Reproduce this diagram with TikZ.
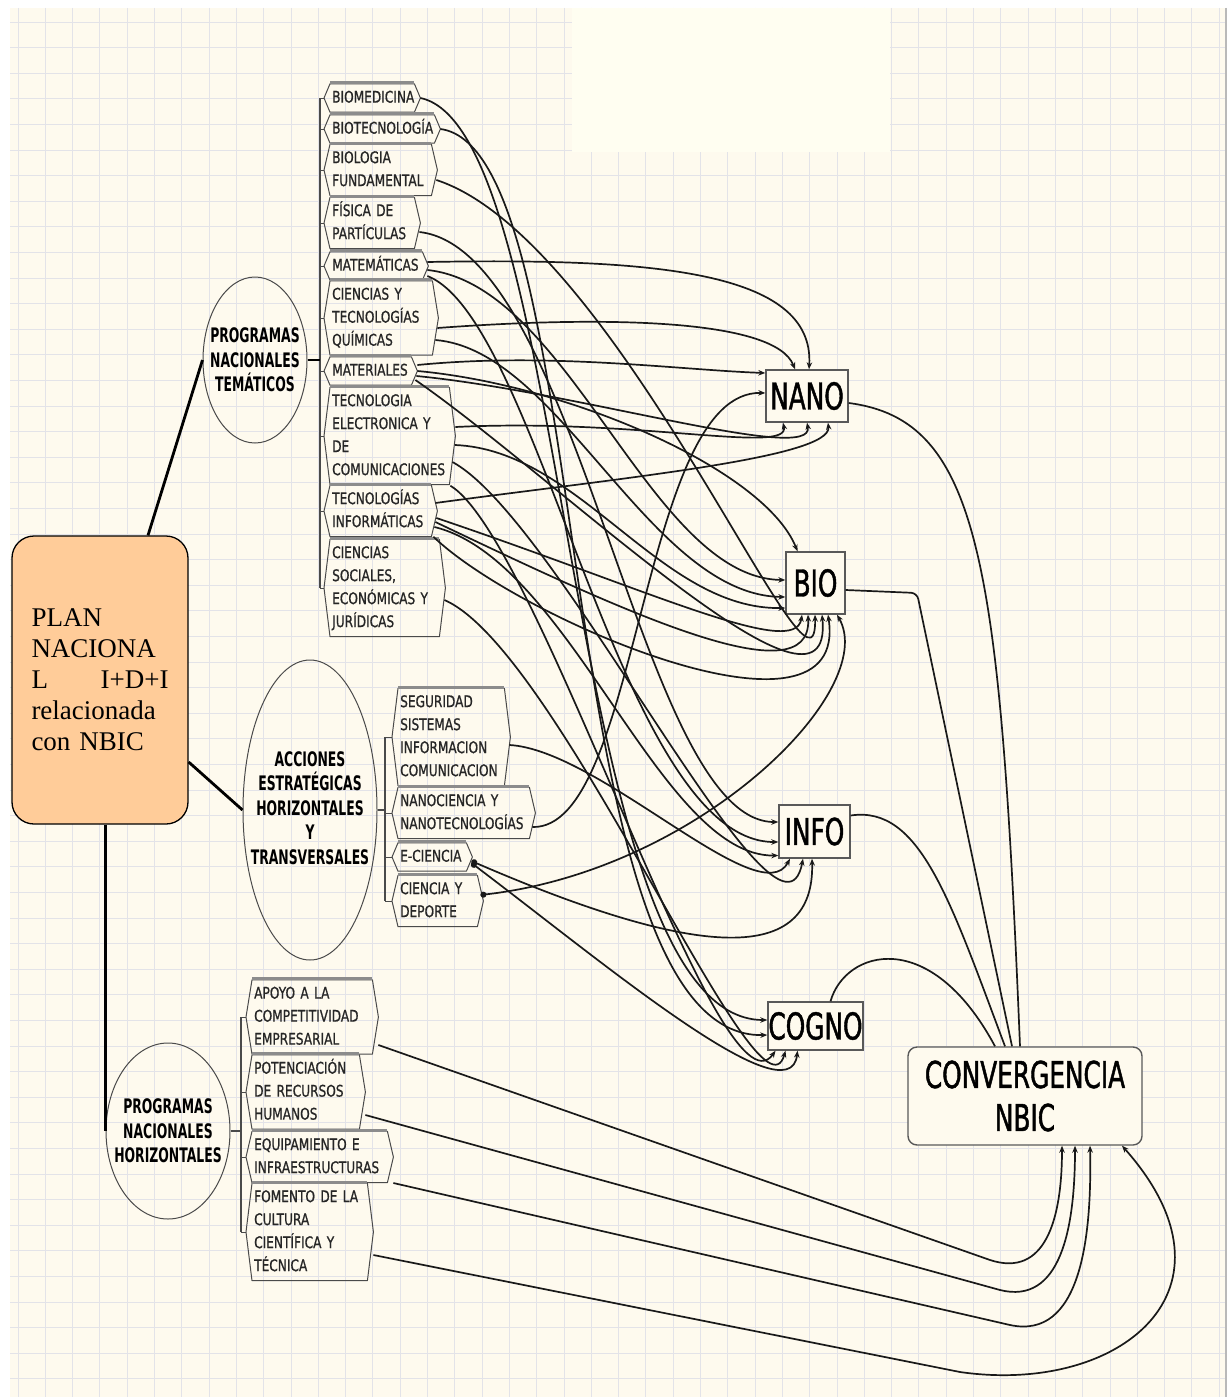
\documentclass[tikz,border=0pt]{standalone}
\usepackage{fontspec}
\usetikzlibrary{shapes.geometric,arrows.meta,calc}
\setmainfont{Liberation Serif}
\newfontfamily\tagfont[FakeStretch=0.76,FakeBold=0.8]{DejaVu Sans}
\newfontfamily\ellfont[FakeStretch=0.62]{DejaVu Sans}
\newfontfamily\keyfont[FakeStretch=0.67,FakeBold=1.2]{DejaVu Sans}
\hyphenpenalty=10000
\exhyphenpenalty=10000
\definecolor{paper}{HTML}{FEFAEE}
\definecolor{gridc}{HTML}{E3E3E8}
\definecolor{peach}{HTML}{FFCC99}
\definecolor{edgegray}{HTML}{4A4A4A}
\definecolor{bargray}{HTML}{8C8C8C}
\definecolor{ivory}{HTML}{FFFEF1}

% hexagonal label: name, west point, text width, text
\newcommand\hexlabel[4]{%
  \node[tagnode, text width=#3] (#1) at #2 {#4};
  \draw[tagedge] (#1.north west) -- (#1.north east) -- ([xshift=6pt]#1.east)
     -- (#1.south east) -- (#1.south west) -- ([xshift=-6pt]#1.west) -- cycle;
  \draw[tagbar] ([yshift=1pt]#1.north west) -- ([yshift=1pt]#1.north east);
}

\begin{document}
\begin{tikzpicture}[x=1pt,y=-1pt,
  gridline/.style={draw=gridc, line width=0.9pt},
  tagnode/.style={anchor=west, inner xsep=2pt, inner ysep=2.5pt, align=left,
    text=black!85, font={\tagfont\fontsize{16}{23}\selectfont},
    execute at begin node=\strut, execute at end node=\strut},
  tagedge/.style={draw=edgegray, line width=1pt, line join=round},
  tagbar/.style={draw=bargray, line width=2.8pt},
  groupell/.style={ellipse, draw=edgegray, line width=1pt, inner sep=0pt},
  grouptext/.style={align=center, inner sep=0pt,
    font={\ellfont\bfseries\fontsize{20}{24.5}\selectfont}},
  keynode/.style={draw=gray!70!black, line width=1.4pt, fill=paper, inner sep=0pt,
    font={\keyfont\fontsize{37}{43}\selectfont}},
  trunk/.style={draw=black, line width=2.8pt},
  bracket/.style={draw=edgegray, line width=1.8pt},
  conn/.style={draw=black!90, line width=1.7pt, -{Stealth[length=7pt,width=5.5pt]}},
  conndot/.style={draw=black!90, line width=1.7pt, {Circle[length=6pt]}-{Stealth[length=7pt,width=5.5pt]}},
  plainconn/.style={draw=black!90, line width=1.7pt},
]
\useasboundingbox (0,0) rectangle (1231,1397);

% paper and grid
\fill[white] (0,0) rectangle (1231,1397);
\fill[paper] (10,8) rectangle (1225,1397);
\foreach \i in {0,...,44} \draw[gridline] ({18+27.3*\i},8) -- ({18+27.3*\i},1397);
\foreach \j in {0,...,54} \draw[gridline] (10,{22+25.6*\j}) -- (1225,{22+25.6*\j});
\fill[ivory] (572,8) rectangle (890,152);
\draw[gray!55, line width=2pt] (1226,8) -- (1226,1397);

% root box
\node[draw=black, line width=1.3pt, fill=peach, rounded corners=22pt,
  minimum width=176pt, minimum height=288pt, text width=137pt, inner sep=0pt,
  align=left, font=\fontsize{27}{31}\selectfont] (plan) at (100,680)
  {PLAN\\NACIONA\\L\hfill I+D+I\\relacionada\\con NBIC};

% programme groups: outline and title
\node[groupell, minimum width=104pt, minimum height=166pt] (tem) at (255,360) {};
\node[grouptext] (temtxt) at (tem.center) {PROGRAMAS\\NACIONALES\\TEMÁTICOS};
\node[groupell, minimum width=134pt, minimum height=300pt] (acc) at (310,810) {};
\node[grouptext] (acctxt) at ([yshift=2pt]acc.center)
  {ACCIONES\\ESTRATÉGICAS\\HORIZONTALES\\Y\\TRANSVERSALES};
\node[groupell, minimum width=124pt, minimum height=176pt] (phz) at (168,1131) {};
\node[grouptext] (phztxt) at (phz.center) {PROGRAMAS\\NACIONALES\\HORIZONTALES};

\draw[trunk] ([xshift=48pt]plan.north) -- (tem.west);
\draw[trunk] ([yshift=-82pt]plan.east) -- (acc.west);
\draw[trunk] (plan.south -| phz.west) -- (phz.west);

% thematic programmes
\hexlabel{bmed}{(330,98)}{80pt}{BIOMEDICINA}
\hexlabel{btec}{(330,129)}{100pt}{BIOTECNOLOGÍA}
\hexlabel{bfun}{(330,170)}{97pt}{BIOLOGIA\\FUNDAMENTAL}
\hexlabel{fis}{(330,223)}{80pt}{FÍSICA DE\\PARTÍCULAS}
\hexlabel{mat}{(330,266)}{88pt}{MATEMÁTICAS}
\hexlabel{quim}{(330,318)}{98pt}{CIENCIAS Y\\TECNOLOGÍAS\\QUÍMICAS}
\hexlabel{mater}{(330,371)}{77pt}{MATERIALES}
\hexlabel{tele}{(330,436)}{115pt}{TECNOLOGIA\\ELECTRONICA Y\\DE\\COMUNICACIONES}
\hexlabel{tinf}{(330,511)}{97pt}{TECNOLOGÍAS\\INFORMÁTICAS}
\hexlabel{csoc}{(330,588)}{105pt}{CIENCIAS\\SOCIALES,\\ECONÓMICAS Y\\JURÍDICAS}

% strategic actions
\hexlabel{seg}{(398,737)}{102pt}{SEGURIDAD\\SISTEMAS\\INFORMACION\\COMUNICACION}
\hexlabel{nanoc}{(398,813)}{127pt}{NANOCIENCIA Y\\NANOTECNOLOGÍAS}
\hexlabel{ecie}{(398,857)}{64pt}{E-CIENCIA}
\hexlabel{dep}{(398,901)}{75pt}{CIENCIA Y\\DEPORTE}

% horizontal programmes
\hexlabel{apo}{(252,1017)}{116pt}{APOYO A LA\\COMPETITIVIDAD\\EMPRESARIAL}
\hexlabel{pot}{(252,1092)}{103pt}{POTENCIACIÓN\\DE RECURSOS\\HUMANOS}
\hexlabel{equ}{(252,1157)}{131pt}{EQUIPAMIENTO E\\INFRAESTRUCTURAS}
\hexlabel{fom}{(252,1232)}{111pt}{FOMENTO DE LA\\CULTURA\\CIENTÍFICA Y\\TÉCNICA}

% brackets
\coordinate (b1top) at (320,98);
\coordinate (b1bot) at (320,588);
\draw[bracket] (b1top) -- (b1bot);
\draw[trunk, line width=2pt] (tem.east) -- (tem.east -| b1top);
\foreach \n in {bmed,btec,bfun,fis,mat,quim,mater,tele,tinf,csoc}
  \draw[bracket, line width=1pt] (\n.west -| b1top) -- ([xshift=-6pt]\n.west);

\coordinate (b2top) at (385,737);
\coordinate (b2bot) at (385,901);
\draw[bracket] (b2top) -- (b2bot);
\draw[bracket] (acc.east) -- (acc.east -| b2top);
\foreach \n in {seg,nanoc,ecie,dep}
  \draw[bracket, line width=1pt] (\n.west -| b2top) -- ([xshift=-6pt]\n.west);

\coordinate (b3top) at (241,1017);
\coordinate (b3bot) at (241,1232);
\draw[bracket] (b3top) -- (b3bot);
\draw[bracket] (phz.east) -- (phz.east -| b3top);
\foreach \n in {apo,pot,equ,fom}
  \draw[bracket, line width=1pt] (\n.west -| b3top) -- ([xshift=-6pt]\n.west);

% technology poles
\node[keynode, minimum width=82pt, minimum height=52pt] (nano) at (807,396) {NANO};
\node[keynode, minimum width=59pt, minimum height=62pt] (bio) at (815.5,583) {BIO};
\node[keynode, minimum width=71pt, minimum height=53pt] (info) at (814.5,831.5) {INFO};
\node[keynode, minimum width=95pt, minimum height=48pt] (cogno) at (815.5,1026) {COGNO};
\node[keynode, rounded corners=9pt, minimum width=234pt, minimum height=98pt,
  align=center] (conv) at (1025,1096) {CONVERGENCIA\\NBIC};

% links into NANO
\draw[conn] ([xshift=5pt,yshift=4pt]mat.east) .. controls (650,258) and (815,270) .. ([xshift=2pt]nano.north);
\draw[conn] ([xshift=5pt,yshift=-10pt]quim.east) .. controls (600,316) and (775,318) .. ([xshift=-12pt]nano.north);
\draw[conn] ([xshift=6pt,yshift=6pt]mater.east) .. controls (550,352) and (680,370) .. ([yshift=23pt]nano.west);
\draw[conn] ([xshift=6pt,yshift=9pt]tele.east) .. controls (640,418) and (790,455) .. ([xshift=-24pt]nano.south);
\draw[conn] ([xshift=5pt,yshift=-5pt]mater.east) .. controls (580,392) and (815,465) .. (nano.south);
\draw[conn] ([xshift=4pt,yshift=8pt]tinf.east) .. controls (620,478) and (832,458) .. ([xshift=21pt]nano.south);
\draw[conn] ([xshift=3pt,yshift=-14pt]nanoc.east) .. controls (640,830) and (640,390) .. ([yshift=3pt]nano.west);

% links into BIO
\draw[conn] ([xshift=6pt]mater.east) .. controls (570,385) and (765,470) .. ([xshift=-18pt]bio.north);
\draw[conn] ([xshift=5pt,yshift=-4pt]mat.east) .. controls (570,285) and (650,578) .. ([yshift=3pt]bio.west);
\draw[conn] ([xshift=3pt,yshift=-22pt]quim.east) .. controls (560,350) and (650,595) .. ([yshift=-14pt]bio.west);
\draw[conn] ([xshift=5.5pt,yshift=-9pt]tele.east) .. controls (580,450) and (660,610) .. ([yshift=-25pt]bio.west);
\draw[conn] ([xshift=5pt,yshift=-7pt]tinf.east) .. controls (650,590) and (795,660) .. ([xshift=-13.5pt]bio.south);
\draw[conn] ([xshift=4pt,yshift=-11pt]tinf.east) .. controls (620,610) and (812,700) .. ([xshift=-7.5pt]bio.south);
\draw[conn] ([xshift=5pt,yshift=-10pt]bfun.east) .. controls (620,240) and (818,740) .. ([xshift=-0.5pt]bio.south);
\draw[conn] ([xshift=4pt,yshift=-9pt]mater.east) .. controls (560,480) and (835,750) .. ([xshift=6.5pt]bio.south);
\draw[conn] ([xshift=2pt]tinf.south east) .. controls (520,620) and (850,760) .. ([xshift=12.5pt]bio.south);
\draw[conndot] ([xshift=3pt,yshift=6pt]dep.east) .. controls (700,870) and (880,690) .. ([xshift=21.5pt]bio.south);

% links into INFO
\draw[conn] ([xshift=5pt,yshift=-9pt]fis.east) .. controls (580,250) and (640,822) .. ([yshift=9.5pt]info.west);
\draw[conn] ([xshift=5pt,yshift=-10pt]mat.east) .. controls (540,320) and (620,842) .. ([yshift=-10.5pt]info.west);
\draw[conn] ([xshift=3pt,yshift=-16pt]tinf.east) .. controls (570,560) and (660,857) .. ([yshift=-24pt]info.west);
\draw[conn] ([xshift=5pt,yshift=-8pt]seg.east) .. controls (600,750) and (760,915) .. ([xshift=-24.5pt]info.south);
\draw[conn] ([xshift=3pt,yshift=-26pt]tele.east) .. controls (560,520) and (780,980) .. ([xshift=-11.5pt]info.south);
\draw[conndot] ([xshift=5pt,yshift=-4pt]ecie.east) .. controls (700,960) and (815,965) .. ([xshift=-2.5pt]info.south);

% links into COGNO
\draw[conn] ([xshift=6pt]bmed.east) .. controls (575,130) and (560,1020) .. ([yshift=6pt]cogno.west);
\draw[conn] ([xshift=6pt]btec.east) .. controls (600,150) and (545,1040) .. ([yshift=-9pt]cogno.west);
\draw[conn] ([xshift=1pt,yshift=-1pt]tele.south east) .. controls (540,540) and (720,1130) .. ([xshift=-40pt]cogno.south);
\draw[conn] ([xshift=5pt,yshift=-12pt]csoc.east) .. controls (560,650) and (760,1140) .. ([xshift=-30pt]cogno.south);
\draw[conndot] ([xshift=5pt,yshift=-6pt]ecie.east) .. controls (600,960) and (790,1120) .. ([xshift=-18pt]cogno.south);

% poles into the convergence box
\draw[plainconn] ([yshift=-7pt]nano.east) .. controls (980,420) and (1000,560) .. ([xshift=-5pt]conv.north);
\draw[plainconn, rounded corners=6pt] ([yshift=-7pt]bio.east) -- (917,593) -- ([xshift=-13pt]conv.north);
\draw[plainconn] ([yshift=16pt]info.east) .. controls (920,805) and (950,900) .. ([xshift=-20pt]conv.north);
\draw[plainconn] ([xshift=15pt]cogno.north) .. controls (845,950) and (930,925) .. ([xshift=-30pt]conv.north);

% horizontal programmes into the convergence box
\draw[conn] ([xshift=6pt,yshift=-28pt]apo.east) -- (990,1260) .. controls (1045,1278) and (1062,1220) .. ([xshift=37pt]conv.south);
\draw[conn] ([xshift=6pt,yshift=-23pt]pot.east) -- (1000,1290) .. controls (1060,1305) and (1075,1230) .. ([xshift=50pt]conv.south);
\draw[conn] ([xshift=6pt,yshift=-26pt]equ.east) -- (1010,1325) .. controls (1080,1340) and (1092,1240) .. ([xshift=65pt]conv.south);
\draw[conn] ([xshift=6pt,yshift=-23pt]fom.east) -- (960,1372) .. controls (1120,1395) and (1250,1290) .. ([xshift=97pt]conv.south);
\end{tikzpicture}
\end{document}
